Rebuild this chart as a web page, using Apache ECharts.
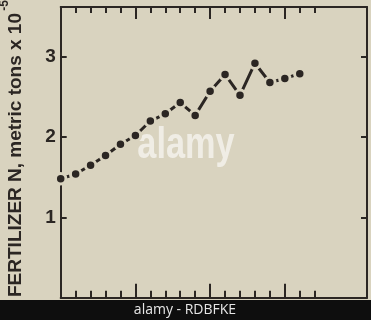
<!DOCTYPE html>
<html><head><meta charset="utf-8">
<script src="https://cdn.jsdelivr.net/npm/echarts@6/dist/echarts.min.js"></script>
<style>html,body{margin:0;padding:0;background:#d9d3bf}#c{width:371px;height:320px}</style>
</head><body><div id="c"></div>
<script>
// year offsets from the first year shown
const years = [0,1,2,3,4,5,6,7,8,9,10,11,12,13,14,15,16];
const values = [1.48,1.54,1.65,1.77,1.91,2.02,2.20,2.29,2.43,2.27,2.57,2.78,2.52,2.92,2.68,2.73,2.79];
const xMajorTicks = [0,5,10,15];
const xMinorTicks = [1,2,3,4,6,7,8,9,11,12,13,14,16,17];
const yTickLabels = {1:'1',2:'2',3:'3'};
const yAxisTitle = 'FERTILIZER N, metric tons x 10';
const yAxisExp = '-5';

const INK = '#2b2623';
const BG = '#d9d3bf';
const chart = echarts.init(document.getElementById('c'), null, {renderer:'canvas'});

function xAx(pos, ticks, len, showLine){
  return {type:'value', min:0, max:20.5, position:pos,
    axisLine:{show:showLine, onZero:false, lineStyle:{color:INK, width:2}},
    axisTick:{show:true, inside:true, length:len, customValues:ticks, lineStyle:{color:INK, width:2}},
    axisLabel:{show:false}, splitLine:{show:false}};
}
function yAx(pos, labels){
  return {type:'value', min:0, max:3.62, interval:1, position:pos,
    axisLine:{show:true, onZero:false, lineStyle:{color:INK, width:2}},
    axisTick:{show:true, inside:true, length:6, lineStyle:{color:INK, width:2}},
    axisLabel:{show:labels, inside:false, margin:5, color:INK, fontSize:19, fontWeight:'bold',
      fontFamily:'Liberation Sans', showMinLabel:false, showMaxLabel:false,
      formatter:v=>yTickLabels[v]||''},
    splitLine:{show:false}};
}

chart.setOption({
  backgroundColor: BG,
  animation:false,
  grid:{left:60.7, right:4, top:7, bottom:22.3, containLabel:false},
  xAxis:[xAx('bottom', xMajorTicks, 14, true), xAx('bottom', xMinorTicks, 7, false),
         xAx('top', xMajorTicks, 12, true), xAx('top', xMinorTicks, 6, false)],
  yAxis:[yAx('left', true), yAx('right', false)],
  series:[{type:'line', xAxisIndex:0, yAxisIndex:0,
    data: years.map((x,i)=>[x, values[i]]),
    symbol:'circle', symbolSize:10.5,
    lineStyle:{color:INK, width:3},
    itemStyle:{color:INK, borderColor:BG, borderWidth:3}}],
  graphic:[
    {type:'text', x:16, y:13, rotation:Math.PI/2,
      style:{text:yAxisTitle, font:'bold 19px "Liberation Sans"', fill:INK, textAlign:'right', textVerticalAlign:'middle'}},
    {type:'text', x:5, y:0, rotation:Math.PI/2,
      style:{text:yAxisExp, font:'bold 12px "Liberation Sans"', fill:INK, textAlign:'right', textVerticalAlign:'middle'}},
    {type:'text', x:186, y:146, scaleX:0.78,
      style:{text:'alamy', font:'bold 44px "Liberation Sans"', fill:'rgba(255,255,255,0.6)', textAlign:'center', textVerticalAlign:'middle'}},
    {type:'rect', shape:{x:0, y:300, width:371, height:20}, style:{fill:'#0e0e0e'}},
    {type:'text', x:185, y:310, style:{text:'alamy - RDBFKE', font:'14px "Open Sans"', fill:'#e6e6e6', textAlign:'center', textVerticalAlign:'middle'}}
  ]
});
</script></body></html>
